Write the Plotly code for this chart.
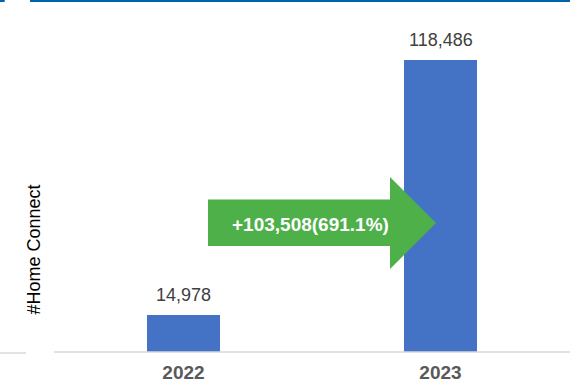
import plotly.graph_objects as go

categories = ["2022", "2023"]
values = [14978, 118486]
value_labels = ["14,978", "118,486"]
growth_label = "+103,508(691.1%)"
y_title = "#Home Connect"

W, H = 570, 383
ML, MR, MT, MB = 55, 1, 10, 31
PW = W - ML - MR
PH = H - MT - MB

def px(x):
    return (x - ML) / PW

def py(y):
    return (H - MB - y) / PH

FONT = "Arial, Liberation Sans, sans-serif"

fig = go.Figure()
fig.add_trace(go.Bar(
    x=categories, y=values,
    marker=dict(color="#4472C4", line=dict(width=0)),
    width=0.284,
    hoverinfo="skip",
))

# value labels above bars (category index positions)
for i, (v, t) in enumerate(zip(values, value_labels)):
    fig.add_annotation(x=i, y=v, text=t, showarrow=False, xref="x", yref="y",
                       xanchor="center", yanchor="bottom", yshift=8,
                       font=dict(family=FONT, size=18, color="#404040"))

# growth arrow (paper coordinates)
bx0, bx1, tip = px(208), px(390), px(436)
by0, by1 = py(246), py(199.5)
hy0, hy1, ty = py(269), py(177), py(223)
path = (f"M {bx0},{by0} L {bx1},{by0} L {bx1},{hy0} L {tip},{ty} "
        f"L {bx1},{hy1} L {bx1},{by1} L {bx0},{by1} Z")
fig.add_shape(type="path", path=path, xref="paper", yref="paper",
              fillcolor="#4EB048", line=dict(width=0), layer="above")
fig.add_annotation(x=px(310.5), y=py(224), xref="paper", yref="paper",
                   xanchor="center", yanchor="middle",
                   text=growth_label, showarrow=False,
                   font=dict(family=FONT, size=19, color="white", weight="bold"))

# y-axis title
fig.add_annotation(x=px(33.5), y=py(250), xref="paper", yref="paper",
                   xanchor="center", yanchor="middle",
                   text=y_title, textangle=-90, showarrow=False,
                   font=dict(family=FONT, size=18, color="#000000"))

# decorative lines
fig.add_shape(type="line", xref="paper", yref="paper", x0=px(0), x1=px(4.7),
              y0=py(1), y1=py(1), line=dict(color="#0064AA", width=2))
fig.add_shape(type="line", xref="paper", yref="paper", x0=px(30), x1=px(570),
              y0=py(1), y1=py(1), line=dict(color="#0064AA", width=2))
fig.add_shape(type="line", xref="paper", yref="paper", x0=px(0), x1=px(26),
              y0=py(353), y1=py(353), line=dict(color="#D9D9D9", width=1.5))
fig.add_shape(type="line", xref="paper", yref="paper", x0=px(54), x1=px(570),
              y0=py(352), y1=py(352), line=dict(color="#D9D9D9", width=1.5))

ymax = PH / 292 * 118486
fig.update_layout(
    width=W, height=H,
    margin=dict(l=ML, r=MR, t=MT, b=MB, pad=0, autoexpand=False),
    plot_bgcolor="white", paper_bgcolor="white",
    showlegend=False,
    xaxis=dict(type="category", range=[-0.5, 1.5], showgrid=False, showline=False,
               zeroline=False, ticks="", ticklabelstandoff=7, automargin=False,
               tickfont=dict(family=FONT, size=19, color="#595959", weight="bold")),
    yaxis=dict(range=[0, ymax], showgrid=False, showline=False, zeroline=False,
               showticklabels=False, ticks="", automargin=False),
)

fig.write_html("out.html")
